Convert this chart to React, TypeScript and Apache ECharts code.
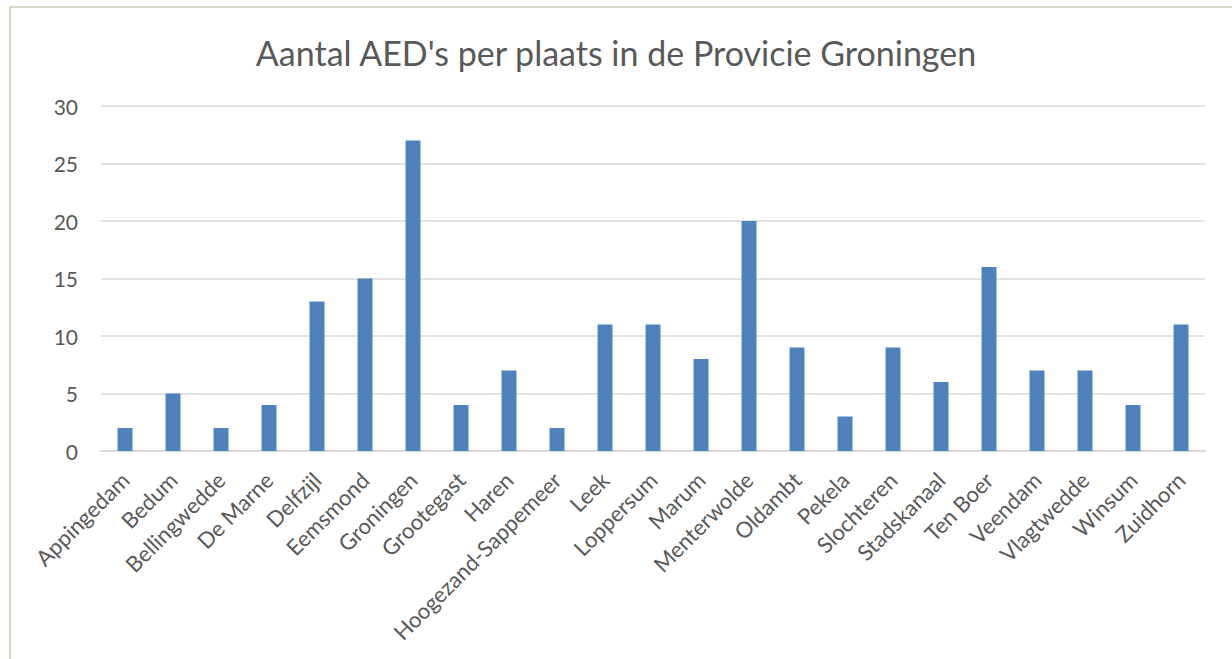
import React, { useEffect, useRef } from "react";
import * as echarts from "echarts";

const categories = [
  "Appingedam", "Bedum", "Bellingwedde", "De Marne", "Delfzijl", "Eemsmond",
  "Groningen", "Grootegast", "Haren", "Hoogezand-Sappemeer", "Leek", "Loppersum",
  "Marum", "Menterwolde", "Oldambt", "Pekela", "Slochteren", "Stadskanaal",
  "Ten Boer", "Veendam", "Vlagtwedde", "Winsum", "Zuidhorn",
];
const values = [2, 5, 2, 4, 13, 15, 27, 4, 7, 2, 11, 11, 8, 20, 9, 3, 9, 6, 16, 7, 7, 4, 11];
const titleText = "Aantal AED's per plaats in de Provicie Groningen";

export default function App() {
  const ref = useRef<HTMLDivElement>(null);
  useEffect(() => {
    if (!ref.current) return;
    const chart = echarts.init(ref.current, null, { renderer: "svg" });
    const font = "Lato, 'Open Sans', sans-serif";
    chart.setOption({
      animation: false,
      backgroundColor: "#ffffff",
      title: {
        text: titleText,
        left: "center",
        top: 30,
        textStyle: { fontFamily: font, fontSize: 34, fontWeight: "normal", color: "#595959" },
      },
      graphic: [
        {
          type: "rect",
          shape: { x: 10, y: 7, width: 1240, height: 700 },
          style: { fill: "none", stroke: "#DCD8C6", lineWidth: 2 },
          silent: true,
        },
      ],
      grid: { left: 101, right: 27, top: 106, bottom: 208 },
      xAxis: {
        type: "category",
        data: categories,
        axisLine: { lineStyle: { color: "#D9D9D9", width: 2 } },
        axisTick: { show: false },
        axisLabel: {
          interval: 0,
          rotate: 45,
          margin: 25,
          fontFamily: font,
          fontSize: 22,
          color: "#595959",
        },
      },
      yAxis: {
        type: "value",
        min: 0,
        max: 30,
        interval: 5,
        axisLine: { show: false },
        axisTick: { show: false },
        splitLine: { lineStyle: { color: "#D9D9D9", width: 1.5 } },
        axisLabel: { margin: 23, fontFamily: font, fontSize: 21, color: "#595959" },
      },
      series: [
        {
          type: "bar",
          data: values,
          barWidth: 15,
          itemStyle: { color: "#4F81BD" },
        },
      ],
    });
    return () => chart.dispose();
  }, []);
  return (
    <div
      ref={ref}
      style={{ position: "fixed", left: 0, top: 0, width: 1232, height: 659 }}
    />
  );
}
